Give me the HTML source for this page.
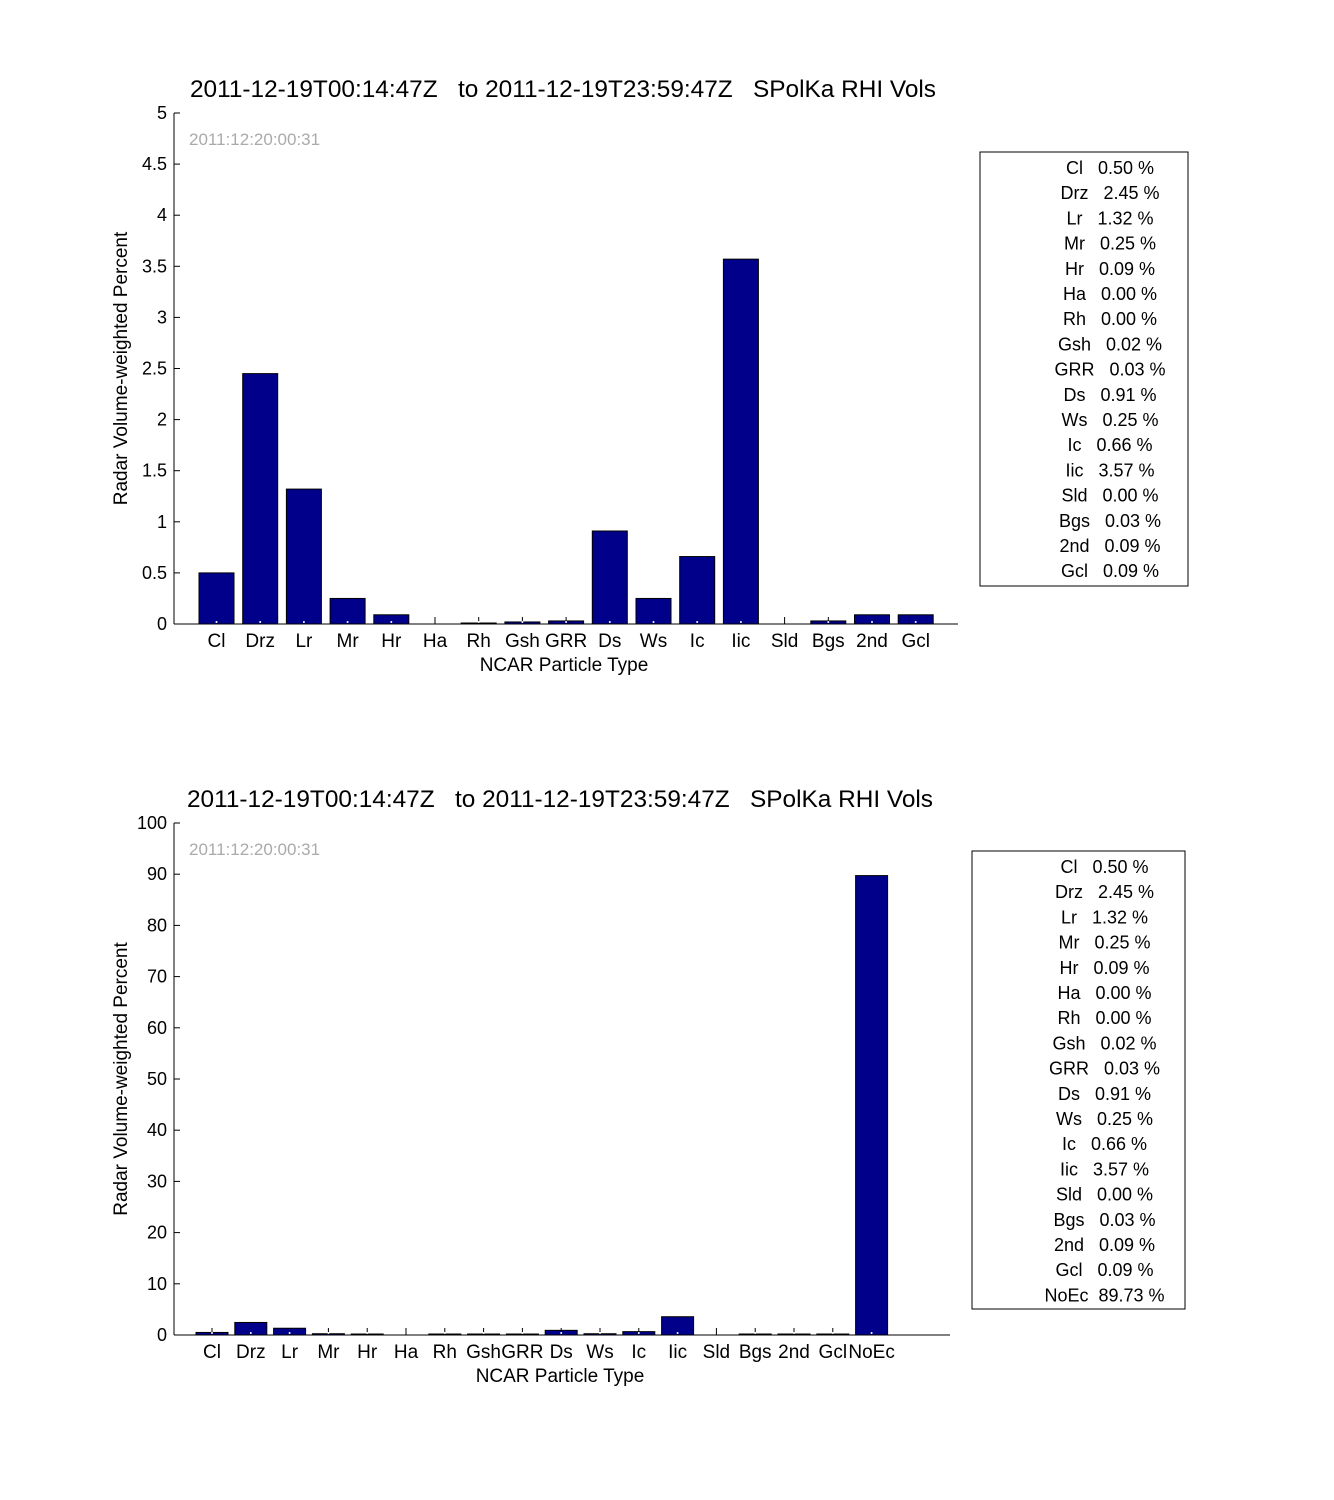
<!DOCTYPE html>
<html><head><meta charset="utf-8"><style>
body{margin:0;background:#fff}
svg{display:block;font-family:"Liberation Sans",sans-serif}
</style></head><body>
<svg id="s" width="1334" height="1500" xmlns="http://www.w3.org/2000/svg"></svg>
<script>
const s=document.getElementById('s');let h='';
const names=['Cl','Drz','Lr','Mr','Hr','Ha','Rh','Gsh','GRR','Ds','Ws','Ic','Iic','Sld','Bgs','2nd','Gcl'];
const vals=[.50,2.45,1.32,.25,.09,0,0.005,.02,.03,.91,.25,.66,3.57,0,.03,.09,.09];
const pct=['0.50','2.45','1.32','0.25','0.09','0.00','0.00','0.02','0.03','0.91','0.25','0.66','3.57','0.00','0.03','0.09','0.09'];
function chart(o){
 const {top,y0,x0,x1,ymax,step,ndec,c0,sp,bw,n,title,tx,tw,leg}=o;
 const sc=(y0-top)/ymax;
 h+=`<text x="${tx}" y="${top-16}" font-size="24" textLength="${tw}" lengthAdjust="spacingAndGlyphs">${title}</text>`;
 h+=`<text x="${x0+15}" y="${top+32}" font-size="17" fill="#aaa">2011:12:20:00:31</text>`;
 h+=`<line x1="${x0}" y1="${top}" x2="${x0}" y2="${y0}" stroke="#000"/>`;
 h+=`<line x1="${x0}" y1="${y0}" x2="${x1}" y2="${y0}" stroke="#000"/>`;
 for(let v=0;v<=ymax+1e-9;v+=step){const y=y0-v*sc;
  h+=`<line x1="${x0}" y1="${y}" x2="${x0+6}" y2="${y}" stroke="#000"/>`;
  let t=ndec?(Math.round(v*10)/10).toString():Math.round(v).toString();
  h+=`<text x="${x0-7}" y="${y+6}" font-size="18" text-anchor="end">${t}</text>`;}
 for(let i=0;i<n;i++){const c=c0+sp*i;const v=o.v[i];
  h+=`<line x1="${c}" y1="${y0}" x2="${c}" y2="${y0-7}" stroke="#000"/>`;
  if(v>0){const bh=Math.max(1,v*sc);h+=`<rect x="${c-bw/2}" y="${y0-bh}" width="${bw}" height="${bh}" fill="#00008b" stroke="#000"/>`;
   h+=`<circle cx="${c}" cy="${y0-2}" r="1" fill="#fff"/>`;}
  h+=`<text x="${c}" y="${y0+23}" font-size="19" text-anchor="middle">${o.nm[i]}</text>`;}
 h+=`<text x="${(x0+x1)/2-2}" y="${y0+47}" font-size="19" text-anchor="middle">NCAR Particle Type</text>`;
 h+=`<text transform="translate(${x0-47},${(top+y0)/2}) rotate(-90)" font-size="19" text-anchor="middle">Radar Volume-weighted Percent</text>`;
 const L=leg;h+=`<rect x="${L.x}" y="${L.y}" width="${L.w}" height="${L.h}" fill="none" stroke="#000"/>`;
 for(let i=0;i<o.lt.length;i++){h+=`<text x="${L.x+L.w/2+26}" y="${L.y+22+i*25.2}" font-size="18" text-anchor="middle" xml:space="preserve">${o.lt[i]}</text>`;}
}
const lt=names.map((n,i)=>n+'   '+pct[i]+' %');
chart({top:113,y0:624,x0:174,x1:958,ymax:5,step:0.5,ndec:1,c0:216.5,sp:43.7,bw:35,n:17,v:vals,nm:names,
 title:'2011-12-19T00:14:47Z &#160; to 2011-12-19T23:59:47Z &#160; SPolKa RHI Vols',tx:190,tw:746,
 leg:{x:980,y:152,w:208,h:434},lt:lt});
chart({top:823,y0:1335,x0:174,x1:950,ymax:100,step:10,ndec:0,c0:212,sp:38.8,bw:32,n:18,v:vals.concat([89.73]),nm:names.concat(['NoEc']),
 title:'2011-12-19T00:14:47Z &#160; to 2011-12-19T23:59:47Z &#160; SPolKa RHI Vols',tx:187,tw:746,
 leg:{x:972,y:851,w:213,h:458},lt:lt.concat(['NoEc  89.73 %'])});
s.innerHTML=h;
</script>
</body></html>
